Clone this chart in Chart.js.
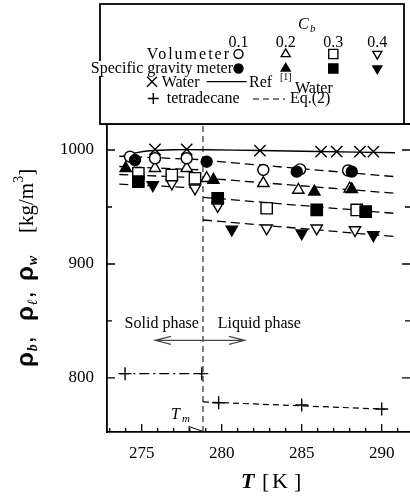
<!DOCTYPE html>
<html><head><meta charset="utf-8">
<script src="https://cdn.jsdelivr.net/npm/chart.js@4"></script>
<style>html,body{margin:0;padding:0;background:#fff}canvas{display:block}</style>
</head><body>
<canvas id="c" width="410" height="499"></canvas>
<script>
// ---- axes ----
const X_MIN = 272.83, X_MAX = 291.77;
const Y_MIN = 752.6, Y_MAX = 1022.8;
const X_TICKS = [275, 280, 285, 290];
const Y_TICKS = [800, 900, 1000];
const X_MINOR_STEP = 1, Y_MINOR_STEP = 50;
const T_MELT = 278.83;

// ---- legend labels ----
const CB_LABELS = ['0.1', '0.2', '0.3', '0.4'];

// ---- water ----
const WATER_T   = [275.83, 277.81, 282.39, 286.21, 287.19, 288.64, 289.48];
const WATER_RHO = [1000.6, 1000.6, 999.4, 998.6, 998.6, 998.6, 998.6];
const WATER_REF_T   = [273.85, 274.6, 275.5, 277.0, 279.0, 282.4, 286.0, 290.83];
const WATER_REF_RHO = [995.0, 997.5, 999.3, 1000.2, 1000.2, 999.5, 998.7, 997.6];

// ---- Cb = 0.1 ----
const VOL01_T = [274.27, 275.83, 277.81, 282.6, 284.9, 287.9];
const VOL01   = [994.1, 992.7, 992.7, 982.5, 983.0, 982.0];
const SGM01_T = [274.58, 279.06, 284.69, 288.13];
const SGM01   = [991.2, 989.7, 981.0, 981.0];
// ---- Cb = 0.2 ----
const VOL02_T = [275.83, 277.81, 279.06, 282.6, 284.79, 288.0];
const VOL02   = [984.0, 984.0, 975.2, 970.8, 964.9, 966.0];
const SGM02_T = [274.0, 279.48, 285.79, 288.13];
const SGM02   = [984.0, 973.7, 963.4, 965.5];
// ---- Cb = 0.3 ----
const VOL03_T = [274.79, 276.88, 278.33, 282.81, 288.44];
const VOL03   = [979.6, 978.0, 975.2, 948.9, 947.4];
const SGM03_T = [274.79, 279.75, 285.94, 289.0];
const SGM03   = [972.2, 957.6, 947.4, 945.9];
// ---- Cb = 0.4 ----
const VOL04_T = [276.88, 278.33, 279.75, 282.81, 285.94, 288.33];
const VOL04   = [970.8, 966.4, 950.9, 931.3, 931.3, 929.8];
const SGM04_T = [275.69, 280.63, 285.0, 289.48];
const SGM04   = [969.3, 930.4, 927.0, 925.4];

// ---- Eq.(2) lines ----
const EQ_SOLID_T = [273.6, 278.83];
const EQ_SOLID01 = [994.5, 991.5];
const EQ_SOLID02 = [985.5, 982.5];
const EQ_SOLID03 = [978.5, 975.5];
const EQ_SOLID04 = [970.0, 966.5];
const EQ_LIQ_T = [278.83, 290.83];
const EQ_LIQ01 = [991.0, 976.6];
const EQ_LIQ02 = [975.5, 962.0];
const EQ_LIQ03 = [958.5, 944.4];
const EQ_LIQ04 = [938.6, 924.0];

// ---- tetradecane ----
const TET_T   = [273.96, 278.75, 279.81, 285.0, 290.0];
const TET_RHO = [803.8, 803.8, 778.3, 776.3, 772.8];
const TET_SOLID_T = [273.6, 278.83];
const TET_SOLID   = [803.8, 803.8];
const TET_LIQ_T = [278.83, 290.2];
const TET_LIQ   = [779.0, 772.6];

// ---- annotations ----
const ARROW_T = [275.83, 281.45];
const ARROW_RHO = 833;
const PHASE_LABELS = ['Solid phase', 'Liquid phase'];
const PHASE_T = [276.25, 282.35];
const PHASE_RHO = 849;

const pts = (xs, ys) => xs.map((x, i) => ({x, y: ys[i]}));
const SERIF = '"Liberation Serif","DejaVu Serif",serif';
const SANS = '"Liberation Sans","DejaVu Sans",sans-serif';

function marker(data, style, filled, radius, rotation) {
  return {
    data, showLine: false, pointStyle: style, pointRadius: radius, pointHoverRadius: radius,
    pointRotation: rotation || 0,
    pointBackgroundColor: filled ? '#000' : '#fff', pointBorderColor: '#000',
    pointBorderWidth: 1.4, order: filled ? 0 : 1
  };
}
function line(data, dash, width, tension) {
  return {
    data, showLine: true, pointRadius: 0, borderColor: '#000', borderWidth: width || 1.3,
    borderDash: dash || [], tension: tension || 0, fill: false, order: 10
  };
}

const R_CIRC = 5.5, R_TRI = 6.5, R_RECT = 8, R_X = 8, R_PLUS = 6.5;

const datasets = [
  line(pts([T_MELT, T_MELT], [Y_MIN, Y_MAX]), [6, 4], 1),
  line(pts(WATER_REF_T, WATER_REF_RHO), [], 1.4, 0.4),
  line(pts(EQ_SOLID_T, EQ_SOLID01), [9, 5]),
  line(pts(EQ_SOLID_T, EQ_SOLID02), [9, 5]),
  line(pts(EQ_SOLID_T, EQ_SOLID03), [9, 5]),
  line(pts(EQ_SOLID_T, EQ_SOLID04), [9, 5]),
  line(pts(EQ_LIQ_T, EQ_LIQ01), [9, 5]),
  line(pts(EQ_LIQ_T, EQ_LIQ02), [9, 5]),
  line(pts(EQ_LIQ_T, EQ_LIQ03), [9, 5]),
  line(pts(EQ_LIQ_T, EQ_LIQ04), [9, 5]),
  line(pts(TET_SOLID_T, TET_SOLID), [10, 4, 2, 4], 1.2),
  line(pts(TET_LIQ_T, TET_LIQ), [6, 4], 1.2),
  marker(pts(WATER_T, WATER_RHO), 'crossRot', true, R_X),
  marker(pts(TET_T, TET_RHO), 'cross', true, R_PLUS),
  marker(pts(VOL01_T, VOL01), 'circle', false, R_CIRC),
  marker(pts(VOL02_T, VOL02), 'triangle', false, R_TRI),
  marker(pts(VOL03_T, VOL03), 'rect', false, R_RECT),
  marker(pts(VOL04_T, VOL04), 'triangle', false, R_TRI, 180),
  marker(pts(SGM01_T, SGM01), 'circle', true, R_CIRC),
  marker(pts(SGM02_T, SGM02), 'triangle', true, R_TRI),
  marker(pts(SGM03_T, SGM03), 'rect', true, R_RECT),
  marker(pts(SGM04_T, SGM04), 'triangle', true, R_TRI, 180)
];

function drawSym(ctx, style, filled, r, rot, x, y) {
  ctx.save();
  ctx.fillStyle = filled ? '#000' : '#fff';
  ctx.strokeStyle = '#000';
  ctx.lineWidth = 1.4;
  Chart.helpers.drawPoint(ctx, {pointStyle: style, radius: r, rotation: rot || 0, borderWidth: 1.4}, x, y);
  ctx.restore();
}

const decor = {
  id: 'decor',
  afterDraw(chart) {
    const ctx = chart.ctx, xs = chart.scales.x, ys = chart.scales.y, a = chart.chartArea;
    const X = v => xs.getPixelForValue(v), Y = v => ys.getPixelForValue(v);
    ctx.save();
    ctx.strokeStyle = '#000'; ctx.lineWidth = 1.3;
    // inward ticks
    ctx.beginPath();
    for (let t = Math.ceil(X_MIN); t <= X_MAX; t += X_MINOR_STEP) {
      const len = (t % 5 === 0) ? 8 : 4;
      ctx.moveTo(X(t), a.bottom); ctx.lineTo(X(t), a.bottom - len);
    }
    for (let v = Math.ceil(Y_MIN / Y_MINOR_STEP) * Y_MINOR_STEP; v <= Y_MAX; v += Y_MINOR_STEP) {
      const len = (v % 100 === 0) ? 8 : 5;
      ctx.moveTo(a.left, Y(v)); ctx.lineTo(a.left + len, Y(v));
      ctx.moveTo(a.right, Y(v)); ctx.lineTo(a.right - len, Y(v));
    }
    ctx.stroke();
    // top border
    ctx.lineWidth = 1.8;
    ctx.beginPath(); ctx.moveTo(100, a.top); ctx.lineTo(a.right, a.top); ctx.stroke();

    // double arrow
    ctx.strokeStyle = '#444'; ctx.lineWidth = 1.1;
    const ax0 = X(ARROW_T[0]), ax1 = X(ARROW_T[1]), ay = Y(ARROW_RHO);
    ctx.beginPath();
    ctx.moveTo(ax0, ay); ctx.lineTo(ax1, ay);
    ctx.moveTo(ax0 + 16, ay - 4); ctx.lineTo(ax0, ay); ctx.lineTo(ax0 + 16, ay + 4);
    ctx.moveTo(ax1 - 16, ay - 4); ctx.lineTo(ax1, ay); ctx.lineTo(ax1 - 16, ay + 4);
    ctx.stroke();

    // phase labels
    ctx.fillStyle = '#000';
    ctx.font = '16px ' + SERIF;
    ctx.textAlign = 'center'; ctx.textBaseline = 'alphabetic';
    PHASE_LABELS.forEach((s, i) => ctx.fillText(s, X(PHASE_T[i]), Y(PHASE_RHO) + 6));

    // Tm label and wedge
    ctx.textAlign = 'left';
    ctx.font = 'italic 16px ' + SERIF;
    ctx.fillText('T', 171, 419);
    ctx.font = 'italic 11px ' + SERIF;
    ctx.fillText('m', 182, 422);
    ctx.strokeStyle = '#000'; ctx.lineWidth = 1;
    ctx.beginPath();
    ctx.moveTo(189, 426.5); ctx.lineTo(203, 431.5); ctx.lineTo(189, 431.5); ctx.closePath();
    ctx.stroke();

    // y axis title (reads bottom to top); local x = 267 - screenY
    ctx.save();
    ctx.translate(25, 267);
    ctx.rotate(-Math.PI / 2);
    ctx.textAlign = 'left';
    const groups = [
      {x: -100, sub: 'b', comma: true},
      {x: -54, sub: 'ℓ', comma: true},
      {x: -14, sub: 'w', comma: false}
    ];
    groups.forEach(g => {
      ctx.font = 'bold 24px ' + SANS;
      ctx.fillText('ρ', g.x, 8);
      let px = g.x + ctx.measureText('ρ').width + 1;
      ctx.font = 'italic bold 14px ' + SERIF;
      ctx.fillText(g.sub, px, 12);
      px += ctx.measureText(g.sub).width + 2;
      if (g.comma) { ctx.font = 'bold 18px ' + SANS; ctx.fillText(',', px, 8); }
    });
    ctx.font = '21px ' + SERIF;
    let kx = 34;
    ctx.fillText('[kg/m', kx, 8);
    kx += ctx.measureText('[kg/m').width;
    ctx.font = '14px ' + SERIF;
    ctx.fillText('3', kx, -2);
    kx += ctx.measureText('3').width;
    ctx.font = '21px ' + SERIF;
    ctx.fillText(']', kx, 8);
    ctx.restore();

    // x axis title
    ctx.font = 'bold italic 22px ' + SERIF;
    ctx.fillText('T', 241, 488);
    ctx.font = '22px ' + SERIF;
    ctx.fillText('[', 262, 488);
    ctx.fillText('K', 272, 488);
    ctx.fillText(']', 294, 488);

    // legend box
    ctx.fillStyle = '#fff';
    ctx.fillRect(100, 4, 304, 120);
    ctx.strokeStyle = '#000'; ctx.lineWidth = 1.8;
    ctx.strokeRect(100, 4, 304, 120);
    ctx.fillStyle = '#000';
    ctx.font = 'italic 16px ' + SERIF;
    ctx.fillText('C', 298, 29);
    ctx.font = 'italic 11px ' + SERIF;
    ctx.fillText('b', 310, 32);
    ctx.font = '16px ' + SERIF;
    ctx.textAlign = 'center';
    const colX = [238.5, 285.7, 333.3, 377.3];
    CB_LABELS.forEach((s, i) => ctx.fillText(s, colX[i], 47));
    ctx.textAlign = 'right';
    if ('letterSpacing' in ctx) ctx.letterSpacing = '2px';
    ctx.fillText('Volumeter', 231, 59);
    if ('letterSpacing' in ctx) ctx.letterSpacing = '0px';
    const sgw = ctx.measureText('Specific gravity meter').width;
    ctx.fillStyle = '#fff'; ctx.fillRect(233 - sgw - 1, 61, sgw + 2, 15);
    ctx.fillStyle = '#000';
    ctx.fillText('Specific gravity meter', 233, 73);
    const styles = [['circle', 4.5, 0], ['triangle', 5.2, 0], ['rect', 6.5, 0], ['triangle', 5.2, 180]];
    styles.forEach((s, i) => {
      drawSym(ctx, s[0], false, s[1], s[2], colX[i], 54);
      drawSym(ctx, s[0], true, s[1], s[2], colX[i], 68.5);
    });
    drawSym(ctx, 'crossRot', true, 7, 0, 152, 81.7);
    drawSym(ctx, 'cross', true, 5.5, 0, 153.3, 98.5);
    ctx.textAlign = 'left';
    ctx.fillText('Water', 161.7, 87);
    ctx.fillText('Ref', 249, 87);
    ctx.font = '10px ' + SERIF;
    ctx.fillText('[1]', 280, 80);
    ctx.font = '16px ' + SERIF;
    ctx.fillText('Water', 295, 93);
    ctx.fillText('tetradecane', 166.7, 103);
    ctx.fillText('Eq.(2)', 290, 103);
    ctx.lineWidth = 1.2;
    ctx.beginPath(); ctx.moveTo(206.7, 81.7); ctx.lineTo(246.7, 81.7); ctx.stroke();
    ctx.setLineDash([6, 4]);
    ctx.beginPath(); ctx.moveTo(253, 99); ctx.lineTo(285, 99); ctx.stroke();
    ctx.setLineDash([]);
    ctx.restore();
  }
};

new Chart(document.getElementById('c'), {
  type: 'scatter',
  data: {datasets},
  options: {
    responsive: false, animation: false, devicePixelRatio: 1,
    layout: {autoPadding: false, padding: {top: 124, left: 0, right: 0, bottom: 0}},
    plugins: {legend: {display: false}, tooltip: {enabled: false}},
    scales: {
      x: {
        type: 'linear', min: X_MIN, max: X_MAX,
        afterBuildTicks: s => { s.ticks = X_TICKS.map(v => ({value: v})); },
        afterFit: s => { s.height = 67; s.paddingLeft = 0; s.paddingRight = 0; },
        grid: {display: false, drawTicks: false},
        border: {display: true, color: '#000', width: 1.8},
        ticks: {color: '#000', font: {family: SERIF, size: 17}, padding: 11, maxRotation: 0,
                callback: v => String(v)}
      },
      y: {
        type: 'linear', min: Y_MIN, max: Y_MAX,
        afterBuildTicks: s => { s.ticks = Y_TICKS.map(v => ({value: v})); },
        afterFit: s => { s.width = 107; s.paddingTop = 0; s.paddingBottom = 0; },
        grid: {display: false, drawTicks: false},
        border: {display: true, color: '#000', width: 1.8},
        ticks: {color: '#000', font: {family: SERIF, size: 17}, padding: 13,
                callback: v => String(v)}
      }
    }
  },
  plugins: [decor]
});
</script>
</body></html>
